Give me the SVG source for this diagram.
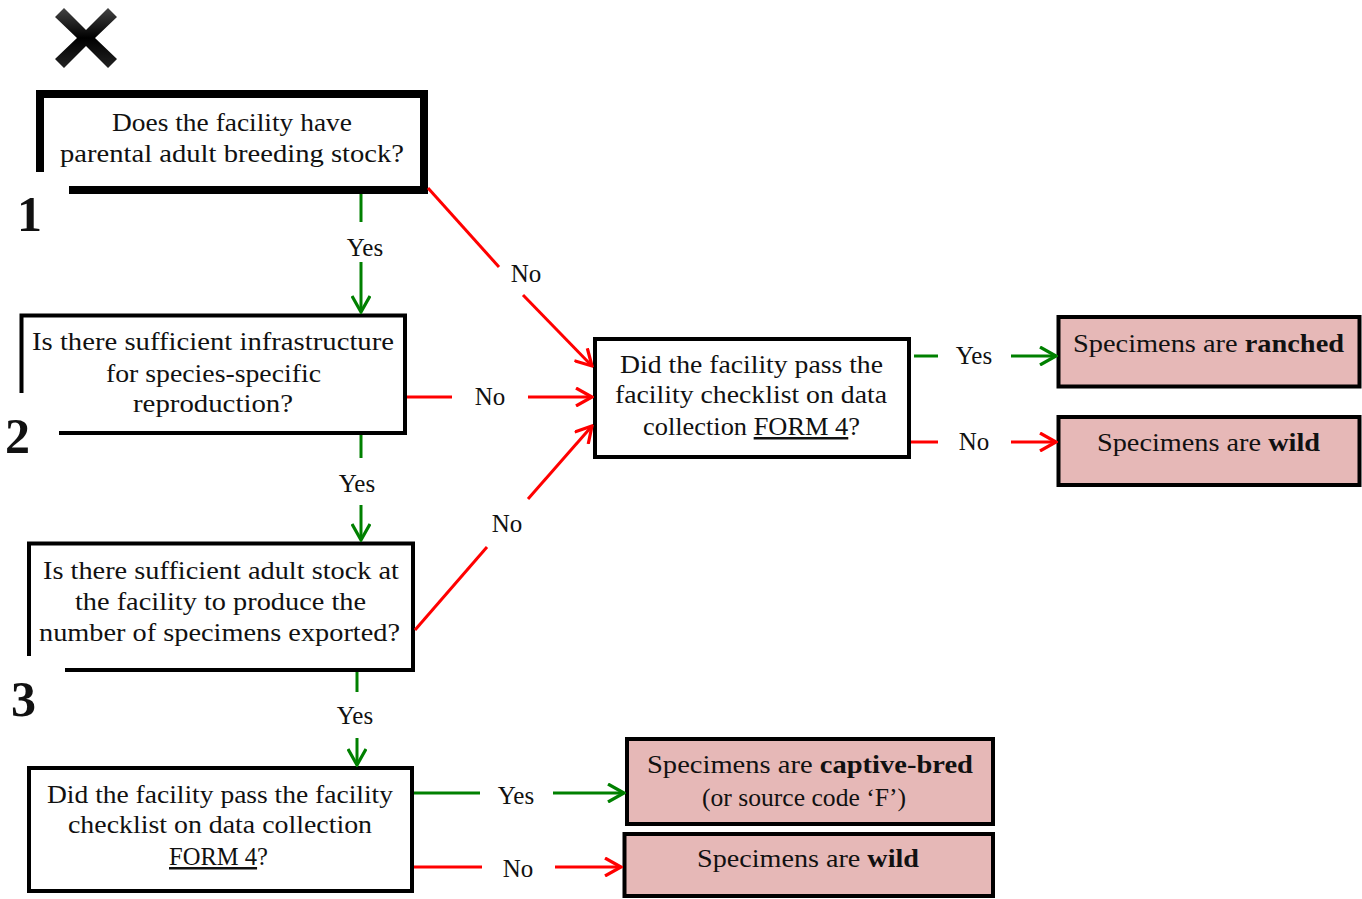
<svg xmlns="http://www.w3.org/2000/svg" width="1362" height="899" viewBox="0 0 1362 899">
<defs>
<marker id="ag" viewBox="0 0 20 20" refX="18" refY="10" markerWidth="20" markerHeight="20" markerUnits="userSpaceOnUse" orient="auto"><path d="M2,1 L18,10 L2,19" fill="none" stroke="#008000" stroke-width="3.2"/></marker>
<marker id="ar" viewBox="0 0 20 20" refX="18" refY="10" markerWidth="20" markerHeight="20" markerUnits="userSpaceOnUse" orient="auto"><path d="M2,1 L18,10 L2,19" fill="none" stroke="#ff0000" stroke-width="3.2"/></marker>
<linearGradient id="xg" x1="0" y1="0" x2="0" y2="1"><stop offset="0" stop-color="#444"/><stop offset="0.5" stop-color="#000"/><stop offset="1" stop-color="#222"/></linearGradient>
</defs>
<style>
text{font-family:"Liberation Serif","Times New Roman",serif;font-size:25px;fill:#111;text-anchor:middle}
.num{font-size:50px;font-weight:bold;text-anchor:start}
.b{font-weight:bold}
.q{fill:#fff;stroke:#000;stroke-width:4}
.r{fill:#e6b8b7;stroke:#000;stroke-width:4}
.g{stroke:#008000;stroke-width:3;fill:none}
.rd{stroke:#ff0000;stroke-width:3;fill:none}
.fr{fill:none;stroke:#000}
</style>
<rect width="1362" height="899" fill="#fff"/>
<g id="xmark" fill="url(#xg)">
<polygon points="64,8 86,30 108,8 117,17 95,38 117,59 108,68 86,46 64,68 55,59 77,38 55,17"/>
</g>
<g id="node1">
<rect x="40" y="94" width="384" height="96" fill="#fff"/>
<path class="fr" stroke-width="8" d="M40,172 V94 H424 V190 H69"/>
<text x="232" y="131" textLength="240" lengthAdjust="spacingAndGlyphs">Does the facility have</text>
<text x="232" y="162" textLength="344" lengthAdjust="spacingAndGlyphs">parental adult breeding stock?</text>
<text class="num" x="17" y="231">1</text>
</g>
<g id="node2">
<rect x="21.5" y="315.5" width="383.5" height="117.5" fill="#fff"/>
<path class="fr" stroke-width="4" d="M21.5,393 V315.5 H405 V433 H59"/>
<text x="213" y="350" textLength="362" lengthAdjust="spacingAndGlyphs">Is there sufficient infrastructure</text>
<text x="213.5" y="382" textLength="215" lengthAdjust="spacingAndGlyphs">for species-specific</text>
<text x="213" y="412" textLength="160" lengthAdjust="spacingAndGlyphs">reproduction?</text>
<text class="num" x="5" y="453">2</text>
</g>
<g id="node3">
<rect x="29" y="543.5" width="384" height="126.5" fill="#fff"/>
<path class="fr" stroke-width="4" d="M29,656 V543.5 H413 V670 H65"/>
<text x="221" y="579" textLength="356" lengthAdjust="spacingAndGlyphs">Is there sufficient adult stock at</text>
<text x="220.5" y="610" textLength="291" lengthAdjust="spacingAndGlyphs">the facility to produce the</text>
<text x="219.5" y="641" textLength="361" lengthAdjust="spacingAndGlyphs">number of specimens exported?</text>
<text class="num" x="11" y="716">3</text>
</g>
<g id="node4">
<rect class="q" x="29" y="768" width="383" height="123"/>
<text x="220" y="803" textLength="346" lengthAdjust="spacingAndGlyphs">Did the facility pass the facility</text>
<text x="220" y="833" textLength="304" lengthAdjust="spacingAndGlyphs">checklist on data collection</text>
<text x="218.5" y="865" textLength="99" lengthAdjust="spacingAndGlyphs"><tspan text-decoration="underline">FORM 4</tspan>?</text>
</g>
<g id="node5">
<rect class="q" x="595" y="339" width="314" height="118"/>
<text x="751.5" y="373" textLength="263" lengthAdjust="spacingAndGlyphs">Did the facility pass the</text>
<text x="751" y="403" textLength="272" lengthAdjust="spacingAndGlyphs">facility checklist on data</text>
<text x="751.5" y="435" textLength="217" lengthAdjust="spacingAndGlyphs">collection <tspan text-decoration="underline">FORM 4</tspan>?</text>
</g>
<g id="ranched">
<rect class="r" x="1058.5" y="317" width="301" height="69.5"/>
<text x="1208.5" y="352" textLength="271" lengthAdjust="spacingAndGlyphs">Specimens are <tspan class="b">ranched</tspan></text>
</g>
<g id="wild1">
<rect class="r" x="1058.5" y="417" width="301" height="68"/>
<text x="1208.5" y="451" textLength="223" lengthAdjust="spacingAndGlyphs">Specimens are <tspan class="b">wild</tspan></text>
</g>
<g id="captive">
<rect class="r" x="627" y="739" width="366" height="85"/>
<text x="810" y="773" textLength="326" lengthAdjust="spacingAndGlyphs">Specimens are <tspan class="b">captive-bred</tspan></text>
<text x="804" y="806" textLength="204" lengthAdjust="spacingAndGlyphs">(or source code ‘F’)</text>
</g>
<g id="wild2">
<rect class="r" x="624.5" y="834" width="368.5" height="62"/>
<text x="808" y="867" textLength="222" lengthAdjust="spacingAndGlyphs">Specimens are <tspan class="b">wild</tspan></text>
</g>
<g id="connectors">
<line class="g" x1="361" y1="194" x2="361" y2="222"/>
<line class="g" x1="361" y1="262" x2="361" y2="312" marker-end="url(#ag)"/>
<text x="365" y="256">Yes</text>
<line class="g" x1="361" y1="435" x2="361" y2="458"/>
<line class="g" x1="361" y1="505" x2="361" y2="540" marker-end="url(#ag)"/>
<text x="357" y="492">Yes</text>
<line class="g" x1="357" y1="672" x2="357" y2="692"/>
<line class="g" x1="357" y1="738" x2="357" y2="765" marker-end="url(#ag)"/>
<text x="355" y="724">Yes</text>
<line class="rd" x1="428" y1="188" x2="499" y2="267"/>
<line class="rd" x1="523" y1="295" x2="592" y2="366" marker-end="url(#ar)"/>
<text x="526" y="282">No</text>
<line class="rd" x1="407" y1="397" x2="452" y2="397"/>
<line class="rd" x1="528" y1="397" x2="592" y2="397" marker-end="url(#ar)"/>
<text x="490" y="405">No</text>
<line class="rd" x1="415" y1="630" x2="487" y2="547"/>
<line class="rd" x1="528" y1="499" x2="592" y2="426" marker-end="url(#ar)"/>
<text x="507" y="532">No</text>
<line class="g" x1="914" y1="356" x2="938" y2="356"/>
<line class="g" x1="1011" y1="356" x2="1056" y2="356" marker-end="url(#ag)"/>
<text x="974" y="364">Yes</text>
<line class="rd" x1="911" y1="442" x2="938" y2="442"/>
<line class="rd" x1="1011" y1="442" x2="1056" y2="442" marker-end="url(#ar)"/>
<text x="974" y="450">No</text>
<line class="g" x1="414" y1="793" x2="480" y2="793"/>
<line class="g" x1="553" y1="793" x2="624" y2="793" marker-end="url(#ag)"/>
<text x="516" y="804">Yes</text>
<line class="rd" x1="414" y1="867" x2="482" y2="867"/>
<line class="rd" x1="555" y1="867" x2="621" y2="867" marker-end="url(#ar)"/>
<text x="518" y="877">No</text>
</g>
</svg>
